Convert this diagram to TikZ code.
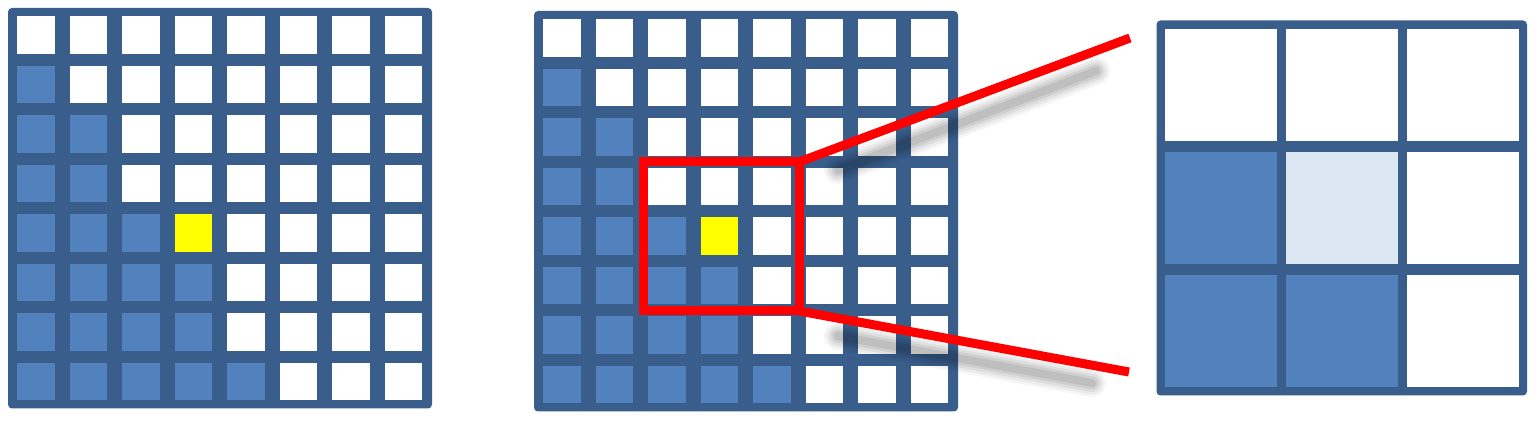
\documentclass[tikz,border=0pt]{standalone}
\usetikzlibrary{calc}
\definecolor{gridline}{HTML}{3A5E8C}
\definecolor{cellblue}{HTML}{5282BE}
\definecolor{celllight}{HTML}{DCE6F2}
\definecolor{cellyellow}{HTML}{FFFF00}
\definecolor{zoomred}{HTML}{FF0000}
\tikzset{
  gridbg/.style={fill=gridline, rounded corners=2pt},
  redline/.style={draw=zoomred, line width=4.5pt, line join=miter},
  shadowline/.style={draw=black, line cap=round},
}
\newcommand{\drawbiggrid}[2]{%
  \fill[gridbg] (#1,#2) rectangle ++(424,400.5);
  \foreach \j/\n in {0/0,1/1,2/2,3/2,4/3,5/4,6/4,7/5}{
    \foreach \i in {0,...,7}{
      \ifnum\i<\n\relax \def\cc{cellblue}\else\def\cc{white}\fi
      \fill[\cc] ({#1+9+52.5*\i},{#2+8.5+49.5*\j}) rectangle ++(37.5,37.5);
    }
  }
  \fill[cellyellow] ({#1+9+52.5*3},{#2+8.5+49.5*4}) rectangle ++(37.5,37.5);
}
\begin{document}
\begin{tikzpicture}[x=0.5pt,y=-0.5pt]
\useasboundingbox (0,0) rectangle (1539,421);
\fill[white] (0,0) rectangle (1539,421);
% left and middle grids
\drawbiggrid{8}{8}
\drawbiggrid{534}{11}
% right 3x3 grid
\fill[gridbg] (1156.5,20.5) rectangle (1527,395.5);
\foreach \j/\lst in {0/{white,white,white},1/{cellblue,celllight,white},2/{cellblue,cellblue,white}}{
  \foreach \c [count=\k from 0] in \lst {
    \fill[\c] ({1165+121*\k},{29+123*\j}) rectangle ++(112,112);
  }
}
% named points
\coordinate (rTL) at (643,162);
\coordinate (rTR) at (799,162);
\coordinate (rBR) at (799,311);
\coordinate (rBL) at (643,311);
\coordinate (endT) at (1130,38);
\coordinate (endB) at (1129,372);
\coordinate (shTa) at (838,170);
\coordinate (shTb) at (1096,71);
\coordinate (shBa) at (838,336);
\coordinate (shBb) at (1092,383);
% shadows (soft, layered)
\foreach \w/\o in {14/0.035,11.5/0.045,9/0.055,6.5/0.065,4/0.075}{
  \draw[shadowline, line width=\w pt, opacity=\o] (shTa) -- (shTb);
  \draw[shadowline, line width=\w pt, opacity=\o] (shBa) -- (shBb);
}
% red zoom frame and lines
\draw[redline] (rTL) rectangle (rBR);
\draw[redline] (rTR) -- (endT);
\draw[redline] (rBR) -- (endB);
\end{tikzpicture}
\end{document}
